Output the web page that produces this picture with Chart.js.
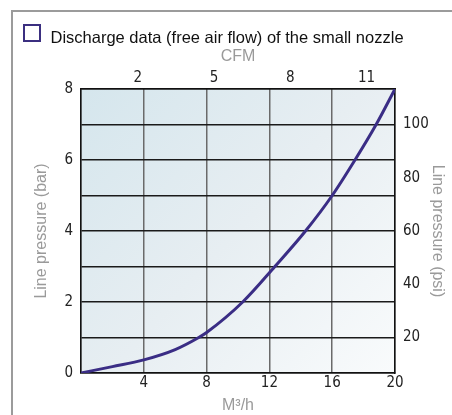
<!DOCTYPE html>
<html><head><meta charset="utf-8">
<script src="https://cdn.jsdelivr.net/npm/chart.js@4/dist/chart.umd.min.js"></script>
<style>html,body{margin:0;padding:0;background:#fff;overflow:hidden}#wrap{width:452px;height:415px;position:relative}</style>
</head><body><div id="wrap"><canvas id="c" width="452" height="415"></canvas></div>
<script>
// ---- data ----
const flowM3h     = [0, 2, 4, 6, 7.5, 8, 10.3, 12.35, 14.3, 16, 17.45, 18.8, 20];
const pressureBar = [0, 0.18, 0.37, 0.66, 1.0, 1.14, 2.0, 3.0, 4.0, 5.0, 6.0, 7.0, 8.0];
const barTicks  = [0, 2, 4, 6, 8];
const psiTicks  = [20, 40, 60, 80, 100];
const cfmTicks  = [2, 5, 8, 11];
const m3hTicks  = [4, 8, 12, 16, 20];
const chartTitle = 'Discharge data (free air flow) of the small nozzle';
const xTitle = 'M\u00B3/h';
const x2Title = 'CFM';
const yTitle = 'Line pressure (bar)';
const y2Title = 'Line pressure (psi)';

const tickFont = {family: '"Liberation Sans Narrow","Arial Narrow","DejaVu Sans Condensed",sans-serif', size: 15};
const axisTitleFont = {family: '"Liberation Sans",Arial,sans-serif', size: 16};
const grey = '#9a9a9a';

const decor = {
  id: 'decor',
  beforeDraw(chart) {
    const ctx = chart.ctx, a = chart.chartArea;
    ctx.save();
    ctx.fillStyle = '#fff';
    ctx.fillRect(0, 0, chart.width, chart.height);
    // outer frame
    ctx.strokeStyle = '#9b9b9b';
    ctx.lineWidth = 2;
    ctx.strokeRect(12, 11, chart.width + 20, chart.height + 20);
    // icon square
    ctx.strokeStyle = '#3b2f80';
    ctx.lineWidth = 2;
    ctx.strokeRect(24, 25, 16, 16);
    // title
    ctx.fillStyle = '#111';
    ctx.font = '16.5px "Liberation Sans", Arial, sans-serif';
    ctx.textBaseline = 'alphabetic';
    ctx.fillText(chartTitle, 50.5, 43);
    // plot background gradient
    const g = ctx.createLinearGradient(a.left, a.top, a.right, a.bottom);
    g.addColorStop(0, '#d5e6ed');
    g.addColorStop(0.5, '#e7eef2');
    g.addColorStop(1, '#f9fbfc');
    ctx.fillStyle = g;
    ctx.fillRect(a.left, a.top, a.right - a.left, a.bottom - a.top);
    ctx.restore();
  }
};

new Chart(document.getElementById('c'), {
  type: 'line',
  data: {
    datasets: [{
      data: flowM3h.map((x, i) => ({x, y: pressureBar[i]})),
      borderColor: '#3a2d85',
      borderWidth: 3,
      pointRadius: 0,
      cubicInterpolationMode: 'monotone',
      xAxisID: 'x', yAxisID: 'y'
    }]
  },
  options: {
    responsive: false,
    devicePixelRatio: 1,
    animation: false,
    layout: {padding: 0},
    plugins: {legend: {display: false}, tooltip: {enabled: false}, title: {display: false}},
    scales: {
      x: {
        type: 'linear', position: 'bottom', min: 0, max: 20,
        ticks: {stepSize: 4, color: '#222', font: tickFont, padding: 1, maxRotation: 0,
                callback: v => m3hTicks.includes(v) ? String(v) : ''},
        grid: {color: '#6a6a6a', lineWidth: 1.5, drawTicks: false},
        border: {color: '#111', width: 1.5},
        title: {display: true, text: xTitle, color: grey, font: axisTitleFont, padding: {top: 0, bottom: 0}},
        afterFit: s => { s.height = 42; }
      },
      x2: {
        type: 'linear', axis: 'x', position: 'top', min: -0.234, max: 12.119,
        afterBuildTicks: s => { s.ticks = cfmTicks.map(v => ({value: v})); },
        ticks: {color: '#222', font: tickFont, padding: 2, maxRotation: 0},
        grid: {display: false, drawTicks: false},
        border: {color: '#111', width: 1.5},
        title: {display: true, text: x2Title, color: grey, font: axisTitleFont, padding: {top: 47, bottom: 0}},
        afterFit: s => { s.height = 89; }
      },
      y: {
        type: 'linear', position: 'left', min: 0, max: 8,
        ticks: {stepSize: 1, color: '#222', font: tickFont, padding: 8,
                callback: v => barTicks.includes(v) ? String(v) : ''},
        grid: {color: '#1a1a1a', lineWidth: 1.5, drawTicks: false},
        border: {color: '#111', width: 1.5},
        title: {display: true, text: yTitle, color: grey, font: axisTitleFont, padding: {top: 32, bottom: 0}},
        afterFit: s => { s.width = 81; }
      },
      y2: {
        type: 'linear', axis: 'y', position: 'right', min: 6.667, max: 113.333,
        afterBuildTicks: s => { s.ticks = psiTicks.map(v => ({value: v})); },
        ticks: {color: '#222', font: tickFont, padding: 8},
        grid: {display: false, drawTicks: false},
        border: {color: '#111', width: 1.5},
        title: {display: true, text: y2Title, color: grey, font: axisTitleFont, padding: {top: 4.5, bottom: 0}},
        afterFit: s => { s.width = 57; }
      }
    }
  },
  plugins: [decor]
});
</script>
</body></html>
